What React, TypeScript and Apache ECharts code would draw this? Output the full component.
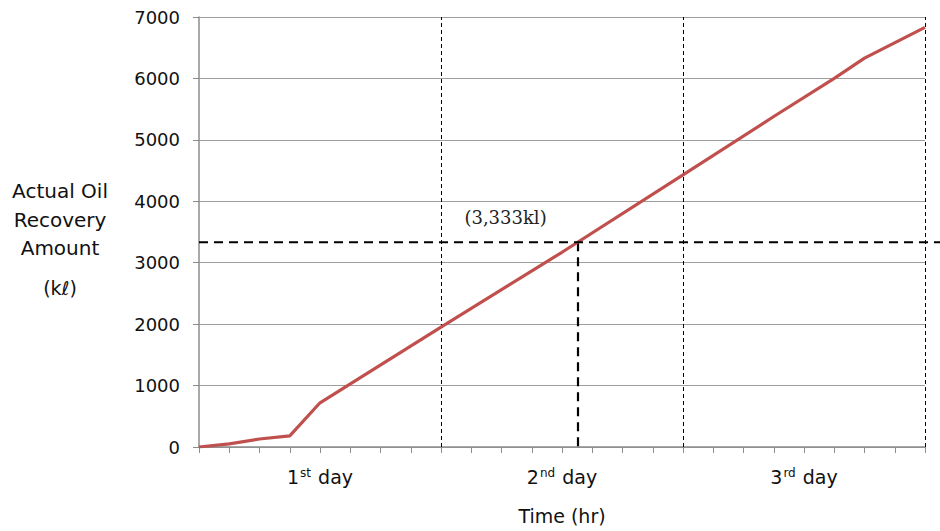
import React, { useEffect, useRef } from "react";
import * as echarts from "echarts";

const hours = [0, 3, 6, 9, 12, 24, 36, 48, 57, 63, 66, 72];
const recovery = [0, 50, 130, 180, 720, 1950, 3170, 4430, 5380, 6000, 6330, 6830];
const dayLines = [24, 48, 72];
const dayLabels: Record<number, [string, string]> = { 12: ["1", "st"], 36: ["2", "nd"], 60: ["3", "rd"] };
const crossHour = 37.6;
const crossValue = 3333;
const annotation = "(3,333kl)";
const annotationPos = [30.4, 3740];
const yTitleLines = ["Actual Oil", "Recovery", "Amount"];
const yUnit = "(kℓ)";
const xTitle = "Time (hr)";

const FONT = "DejaVu Sans";

export default function App() {
  const ref = useRef<HTMLDivElement>(null);
  useEffect(() => {
    const chart = echarts.init(ref.current!, null, { renderer: "svg" });
    chart.setOption({
      animation: false,
      backgroundColor: "#fff",
      grid: { left: 199, right: 15, top: 17, bottom: 84, containLabel: false },
      xAxis: {
        type: "value",
        min: 0,
        max: 72,
        interval: 3,
        name: xTitle,
        nameLocation: "middle",
        nameGap: 59,
        nameTextStyle: { fontFamily: FONT, fontSize: 19, color: "#111" },
        axisLine: { show: true, lineStyle: { color: "#8c8c8c", width: 1.5 } },
        axisTick: { show: true, length: 6, lineStyle: { color: "#8c8c8c" } },
        splitLine: { show: false },
        axisLabel: {
          margin: 20,
          interval: 0,
          showMinLabel: true,
          showMaxLabel: true,
          formatter: (v: number) => {
            const d = dayLabels[v];
            return d ? `{n|${d[0]}}{s|${d[1]}}{n| day}` : "";
          },
          rich: {
            n: { fontFamily: FONT, fontSize: 19, color: "#111" },
            s: { fontFamily: FONT, fontSize: 12, color: "#111", padding: [0, 1, 8, 1] },
          },
        },
      },
      yAxis: {
        type: "value",
        min: 0,
        max: 7000,
        interval: 1000,
        axisLine: { show: true, lineStyle: { color: "#8c8c8c", width: 1.5 } },
        axisTick: { show: true, length: 6, lineStyle: { color: "#8c8c8c" } },
        splitLine: { show: true, lineStyle: { color: "#9e9e9e", width: 1 } },
        axisLabel: {
          margin: 19,
          fontFamily: FONT,
          fontSize: 18,
          color: "#111",
          formatter: (v: number) => String(v),
        },
      },
      series: [
        {
          type: "line",
          data: hours.map((h, i) => [h, recovery[i]]),
          showSymbol: false,
          symbol: "none",
          lineStyle: { color: "#c0504d", width: 3.2 },
          z: 5,
          markLine: {
            silent: true,
            symbol: "none",
            label: { show: false },
            data: [
              ...dayLines.map((d) => ({
                xAxis: d,
                lineStyle: { color: "#000", type: [4, 3], width: 1 },
              })),
              [
                { coord: [crossHour, crossValue], lineStyle: { color: "#000", type: [9, 6], width: 2.2 } },
                { coord: [crossHour, 0] },
              ],
            ],
          },
          markPoint: {
            symbol: "circle",
            symbolSize: 0,
            data: [
              {
                coord: annotationPos,
                label: {
                  show: true,
                  position: "inside",
                  formatter: annotation,
                  fontFamily: "DejaVu Serif",
                  fontSize: 18,
                  color: "#222",
                },
              },
            ],
          },
        },
      ],
    });
    const p = chart.convertToPixel({ gridIndex: 0 }, [0, crossValue]) as number[];
    const txt = (text: string, y: number, size: number) => ({
      type: "text",
      x: 60,
      y,
      style: {
        text,
        fontFamily: FONT,
        fontSize: size,
        fill: "#111",
        textAlign: "center",
        textVerticalAlign: "middle",
      },
    });
    chart.setOption({
      graphic: [
        {
          type: "line",
          shape: { x1: p[0], y1: p[1], x2: 940, y2: p[1] },
          style: { stroke: "#000", lineWidth: 2.2, lineDash: [9, 6] },
          z: 10,
        },
        txt(yTitleLines[0], 191, 20),
        txt(yTitleLines[1], 220, 20),
        txt(yTitleLines[2], 248, 20),
        txt(yUnit, 288, 19),
      ],
    });
    return () => chart.dispose();
  }, []);
  return (
    <div
      ref={ref}
      style={{ position: "absolute", left: 0, top: 0, width: 940, height: 531, background: "#fff" }}
    />
  );
}
